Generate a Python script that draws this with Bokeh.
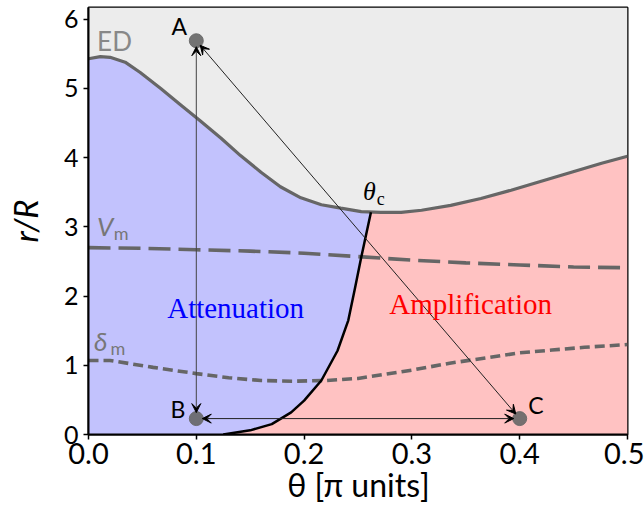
import numpy as np
from bokeh.plotting import figure
from bokeh.models import Arrow, VeeHead, Label, FixedTicker
from bokeh.embed import file_html
from bokeh.resources import INLINE

# ---------------- data ----------------
ed_theta = [0.0, 0.011, 0.02, 0.034, 0.048, 0.067, 0.085, 0.103, 0.123, 0.141,
            0.16, 0.178, 0.197, 0.216, 0.234, 0.253, 0.271, 0.29, 0.309, 0.336,
            0.364, 0.392, 0.42, 0.448, 0.476, 0.5]
ed_r = [5.43, 5.46, 5.45, 5.38, 5.23, 5.0, 4.77, 4.54, 4.28, 4.03,
        3.79, 3.58, 3.42, 3.32, 3.27, 3.22, 3.21, 3.21, 3.24, 3.31,
        3.41, 3.53, 3.66, 3.79, 3.92, 4.02]

vm_theta = [0.0, 0.05, 0.1, 0.15, 0.2, 0.25, 0.3, 0.35, 0.4, 0.45, 0.5]
vm_r = [2.70, 2.69, 2.67, 2.65, 2.62, 2.57, 2.52, 2.48, 2.45, 2.42, 2.41]

dm_theta = [0.0, 0.02, 0.06, 0.1, 0.13, 0.16, 0.19, 0.22, 0.25, 0.275, 0.3,
            0.335, 0.37, 0.4, 0.43, 0.46, 0.5]
dm_r = [1.07, 1.07, 0.97, 0.88, 0.82, 0.78, 0.77, 0.78, 0.81, 0.87, 0.93,
        1.03, 1.11, 1.18, 1.22, 1.26, 1.30]

bd_theta = [0.125, 0.15, 0.17, 0.188, 0.2, 0.216, 0.231, 0.241, 0.247, 0.253, 0.262]
bd_r = [0.0, 0.06, 0.15, 0.32, 0.49, 0.78, 1.21, 1.65, 2.1, 2.56, 3.21]

pt_names = ["A", "B", "C"]
pt_theta = [0.1, 0.1, 0.4]
pt_r = [5.69, 0.23, 0.23]

x_ticks = [0.0, 0.1, 0.2, 0.3, 0.4, 0.5]
x_tick_labels = ["0.0", "0.1", "0.2", "0.3", "0.4", "0.5"]
y_ticks = [0, 1, 2, 3, 4, 5, 6]

# ---------------- figure ----------------
X_MAX = 0.5
Y_MAX = 6.17
W, H = 644, 511
BL, BR, BT, BB = 88, 17, 7, 77
FW, FH = W - BL - BR, H - BT - BB

p = figure(width=W, height=H, x_range=(0, X_MAX), y_range=(0, Y_MAX),
           output_backend="svg", toolbar_location=None,
           min_border_left=BL, min_border_right=BR, min_border_top=BT,
           min_border_bottom=BB)
p.grid.visible = False
p.background_fill_color = "white"
p.border_fill_color = "white"
p.outline_line_color = "black"
p.outline_line_width = 2

GREY_FILL = "#ececec"
BLUE_FILL = "#c2c2fd"
PINK_FILL = "#ffc2c2"

# fills
p.varea(x=ed_theta, y1=ed_r, y2=[Y_MAX] * len(ed_r), color=GREY_FILL)
p.varea(x=ed_theta, y1=[0] * len(ed_r), y2=ed_r, color=PINK_FILL)
theta_c = bd_theta[-1]
left_ed = [(t, r) for t, r in zip(ed_theta, ed_r) if t < theta_c][::-1]
blue_x = [0.0] + bd_theta + [t for t, _ in left_ed]
blue_y = [0.0] + bd_r + [r for _, r in left_ed]
p.patch(blue_x, blue_y, color=BLUE_FILL)

# curves
p.line(ed_theta, ed_r, line_color="#666666", line_width=3.2)
p.line(vm_theta, vm_r, line_color="#666666", line_width=3.6, line_dash="22 8")
p.line(dm_theta, dm_r, line_color="#666666", line_width=3.6, line_dash="10 5")
p.line(bd_theta, bd_r, line_color="black", line_width=2.5)

# points
p.scatter(pt_theta, pt_r, size=14, color="#666666", alpha=0.9)

# arrows (double headed, shortened to touch the markers)
sx = FW / X_MAX
sy = FH / Y_MAX

def shortened(i, j, d=6.0):
    x0, y0 = pt_theta[i] * sx, pt_r[i] * sy
    x1, y1 = pt_theta[j] * sx, pt_r[j] * sy
    L = np.hypot(x1 - x0, y1 - y0)
    ux, uy = (x1 - x0) / L, (y1 - y0) / L
    return ((x0 + ux * d) / sx, (y0 + uy * d) / sy,
            (x1 - ux * d) / sx, (y1 - uy * d) / sy)

for (i, j, col) in [(0, 1, "#444444"), (1, 2, "#222222"), (0, 2, "#222222")]:
    xs, ys, xe, ye = shortened(i, j)
    p.add_layout(Arrow(x_start=xs, y_start=ys, x_end=xe, y_end=ye,
                       line_color=col, line_width=1,
                       start=VeeHead(size=9, fill_color="black", line_color="black", line_width=1),
                       end=VeeHead(size=9, fill_color="black", line_color="black", line_width=1)))

# text labels
SANS = "Lato"
SERIF = "Liberation Serif"

def lab(x, y, text, font=SANS, size=20, color="black", style="normal"):
    dy = 0.3 * size / sy
    p.add_layout(Label(x=x, y=y + dy, text=text, text_font=font,
                       text_font_size=f"{size}px", text_color=color,
                       text_font_style=style, text_align="left",
                       text_baseline="alphabetic"))

lab(0.077, 5.81, pt_names[0], size=23)
lab(0.076, 0.27, pt_names[1], size=23)
lab(0.408, 0.32, pt_names[2], size=23)
lab(0.008, 5.58, "ED", size=26, color="#888888")
lab(0.008, 2.90, "V", size=26, color="#777777", style="italic")
lab(0.0235, 2.83, "m", size=18, color="#777777")
lab(0.005, 1.24, "δ", size=26, color="#777777", style="italic")
lab(0.0205, 1.17, "m", size=18, color="#777777")
lab(0.2546, 3.40, "θ", font=SERIF, size=26, style="italic")
lab(0.2675, 3.33, "c", font=SERIF, size=18)
lab(0.073, 1.705, "Attenuation", font=SERIF, size=29, color="#0000ff")
lab(0.279, 1.76, "Amplification", font=SERIF, size=29, color="#ff0000")

# axes
p.xaxis.ticker = FixedTicker(ticks=x_ticks)
p.xaxis.major_label_overrides = {t: s for t, s in zip(x_ticks, x_tick_labels)}
p.yaxis.ticker = FixedTicker(ticks=y_ticks)
for ax in (p.xaxis, p.yaxis):
    ax.axis_line_color = "black"
    ax.axis_line_width = 2
    ax.major_tick_line_color = "black"
    ax.major_tick_line_width = 1.5
    ax.major_tick_out = 5
    ax.major_tick_in = 0
    ax.minor_tick_line_color = None
    ax.major_label_text_font = SANS
    ax.major_label_text_color = "black"
    ax.axis_label_text_font = SANS
    ax.axis_label_text_color = "black"
    ax.axis_label_text_font_style = "normal"

p.xaxis.major_label_text_font_size = "29px"
p.yaxis.major_label_text_font_size = "25px"
p.xaxis.major_label_standoff = 3
p.yaxis.major_label_standoff = 5
p.xaxis.axis_label = "θ [π units]"
p.xaxis.axis_label_text_font_size = "32px"
p.xaxis.axis_label_standoff = -2
p.yaxis.axis_label = "r/R"
p.yaxis.axis_label_text_font_size = "33px"
p.yaxis.axis_label_text_font_style = "italic"
p.yaxis.axis_label_standoff = 16

open("out.html", "w").write(file_html(p, INLINE))
